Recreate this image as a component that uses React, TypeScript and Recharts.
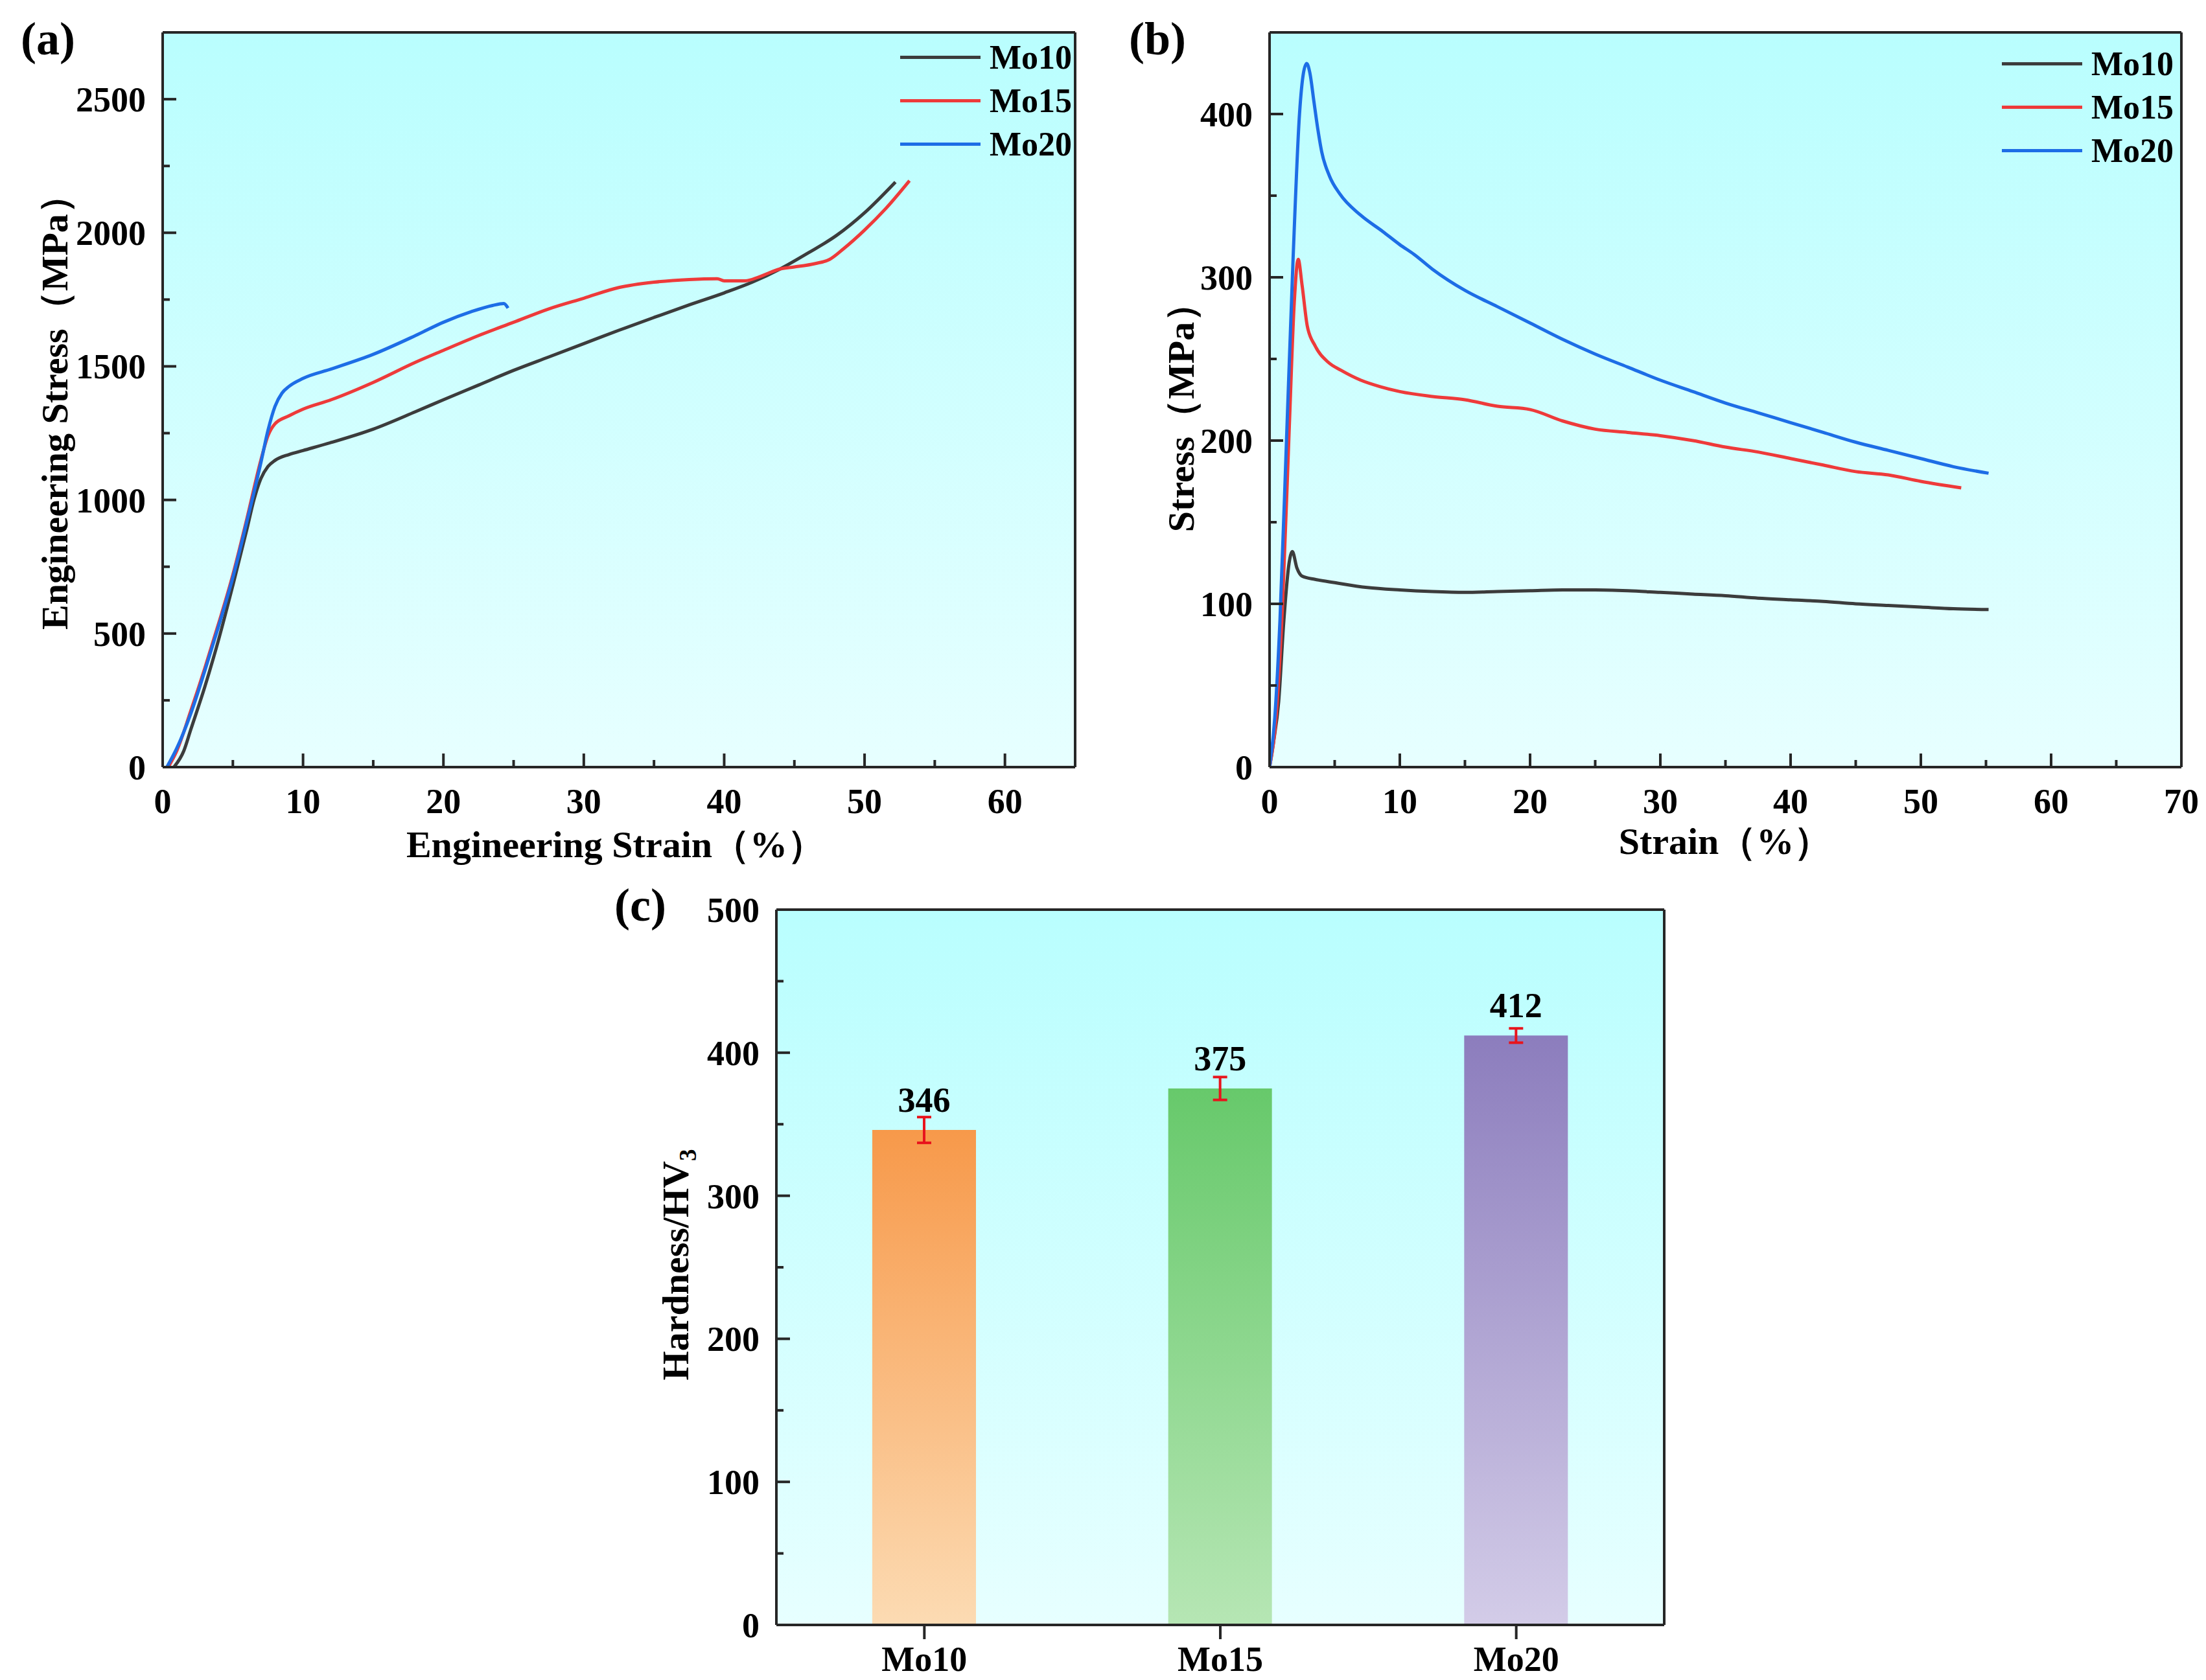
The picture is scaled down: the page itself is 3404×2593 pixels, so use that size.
import React from 'react'
import {
  LineChart, Line, BarChart, Bar, Cell, XAxis, YAxis, CartesianGrid,
  Legend, LabelList, ErrorBar,
} from 'recharts'

const FONT = "'Times New Roman', 'Liberation Serif', serif"
const AXIS = '#262626'

// series
const seriesNames = ['Mo10', 'Mo15', 'Mo20']
const seriesColors = ['#3c3c3c', '#ee3a3a', '#1d6de6']

// (a) engineering stress-strain curves
const strainA10 = [0.8, 1.5, 2, 3, 4, 5, 6, 6.5, 7, 7.5, 8, 9, 10, 12, 15, 18, 20, 22.5, 25, 27.5, 30, 32.5, 35, 37.5, 40, 42, 44, 46, 48, 50, 52.2]
const stressA10 = [0, 60, 140, 300, 480, 680, 890, 1000, 1080, 1125, 1148, 1170, 1185, 1215, 1265, 1330, 1375, 1430, 1485, 1535, 1585, 1635, 1683, 1730, 1775, 1815, 1865, 1925, 1990, 2075, 2190]
const strainA15 = [0.4, 1, 2, 3, 4, 5, 6, 7, 7.5, 8, 9, 10, 12, 15, 18, 20, 22.5, 25, 27.5, 30, 32.5, 35, 37.5, 39.5, 40, 41.5, 42.5, 44, 45, 46.5, 47.5, 48.5, 50, 51.5, 53.2]
const stressA15 = [0, 60, 210, 370, 540, 720, 930, 1150, 1240, 1285, 1315, 1340, 1375, 1440, 1515, 1560, 1615, 1665, 1715, 1755, 1795, 1815, 1825, 1828, 1820, 1820, 1835, 1865, 1872, 1885, 1900, 1940, 2010, 2090, 2195]
const strainA20 = [0.3, 1, 2, 3, 4, 5, 6, 7, 7.5, 8, 8.5, 9, 10, 12, 15, 18, 20, 22, 23.5, 24.3, 24.6]
const stressA20 = [0, 70, 200, 360, 530, 710, 920, 1140, 1260, 1350, 1400, 1425, 1455, 1490, 1545, 1615, 1665, 1705, 1728, 1735, 1718]

const strainTicksA = [0, 5, 10, 15, 20, 25, 30, 35, 40, 45, 50, 55, 60]
const strainLabelsA = [0, 10, 20, 30, 40, 50, 60]
const stressTicksA = [0, 250, 500, 750, 1000, 1250, 1500, 1750, 2000, 2250, 2500]
const stressLabelsA = [0, 500, 1000, 1500, 2000, 2500]

// (b) compressive stress-strain curves
const strainB10 = [0, 0.3, 0.7, 1.1, 1.5, 1.75, 2.1, 2.5, 3.5, 5, 7.5, 10, 12.5, 15, 17.5, 20, 22.5, 25, 27.5, 30, 32.5, 35, 37.5, 40, 42.5, 45, 47.5, 50, 52.5, 55.2]
const stressB10 = [0, 15, 40, 90, 125, 132, 122, 117, 115, 113, 110, 108.5, 107.5, 107, 107.5, 108, 108.5, 108.5, 108, 107, 106, 105, 103.5, 102.5, 101.5, 100, 99, 98, 97, 96.5]
const strainB15 = [0, 0.5, 1, 1.5, 1.9, 2.2, 2.5, 2.9, 3.5, 4.5, 5.5, 7, 8.5, 10, 12.5, 15, 17.5, 20, 22.5, 25, 27.5, 30, 32.5, 35, 37.5, 40, 42.5, 45, 47.5, 50, 53.1]
const stressB15 = [0, 30, 100, 205, 285, 311, 295, 270, 258, 248, 243, 237, 233, 230, 227, 225, 221, 219, 212, 207, 205, 203, 200, 196, 193, 189, 185, 181, 179, 175, 171]
const strainB20 = [0, 0.4, 0.8, 1.3, 1.8, 2.3, 2.6, 2.85, 3.1, 3.4, 3.7, 4, 4.6, 5.4, 7, 8.7, 10, 11.1, 12.5, 15, 17.5, 20, 22.5, 25, 27.5, 30, 32.5, 35, 37.5, 40, 42.5, 45, 47.5, 50, 52.5, 55.2]
const stressB20 = [0, 30, 90, 200, 310, 400, 425, 431, 425, 408, 391, 377, 362, 351, 338, 328, 320, 314, 305, 292, 282, 272, 262, 253, 245, 237, 230, 223, 217, 211, 205, 199, 194, 189, 184, 180]

const strainTicksB = [0, 5, 10, 15, 20, 25, 30, 35, 40, 45, 50, 55, 60, 65, 70]
const strainLabelsB = [0, 10, 20, 30, 40, 50, 60, 70]
const stressTicksB = [0, 50, 100, 150, 200, 250, 300, 350, 400]
const stressLabelsB = [0, 100, 200, 300, 400]

// (c) hardness
const hardnessValues = [346, 375, 412]
const hardnessErrors = [9, 8, 5]
const barTopColors = ['#f7994a', '#67c96b', '#8c7dbd']
const barBottomColors = ['#fcdbb3', '#b6e6b4', '#d3cce8']
const hardnessTicks = [0, 50, 100, 150, 200, 250, 300, 350, 400, 450, 500]
const hardnessLabels = [0, 100, 200, 300, 400, 500]

const toPoints = (xs: number[], ys: number[]) => xs.map((x, i) => ({ x, y: ys[i] }))
const curvesA = [toPoints(strainA10, stressA10), toPoints(strainA15, stressA15), toPoints(strainA20, stressA20)]
const curvesB = [toPoints(strainB10, stressB10), toPoints(strainB15, stressB15), toPoints(strainB20, stressB20)]
const hardnessData = seriesNames.map((name, i) => ({ name, hv: hardnessValues[i], err: hardnessErrors[i] }))

const textStyle = { fontFamily: FONT, fontWeight: 700, fill: '#000' }
const axisLine = { stroke: AXIS, strokeWidth: 4 }
const TICK_FONT = 54
const TITLE_FONT = 58

// frame around the plot area: grid lines only on the four edges
const frameRows = ({ offset }: any) => [offset.top, offset.top + offset.height]
const frameCols = ({ offset }: any) => [offset.left, offset.left + offset.width]

// tick with inward major/minor marks (or outward for category axis)
const Tick = (props: any) => {
  const { x = 0, y = 0, payload, side, labels } = props
  const v = payload?.value
  const major = labels.includes(v)
  const len = major ? 21 : 11
  if (side === 'left') {
    return (
      <g>
        <line x1={x} y1={y} x2={x + len} y2={y} stroke={AXIS} strokeWidth={4} />
        {major && (
          <text x={x - 26} y={y} dy="0.35em" textAnchor="end" fontSize={TICK_FONT} {...textStyle}>{v}</text>
        )}
      </g>
    )
  }
  const down = side === 'bottomOut'
  return (
    <g>
      <line x1={x} y1={y} x2={x} y2={down ? y + 22 : y - len} stroke={AXIS} strokeWidth={4} />
      {major && (
        <text x={x} y={y + 71} textAnchor="middle" fontSize={TICK_FONT} {...textStyle}>{v}</text>
      )}
    </g>
  )
}

const renderLegend = (props: any) => {
  const { payload = [] } = props
  return (
    <div style={{ display: 'flex', flexDirection: 'column' }}>
      {payload.map((entry: any) => (
        <div key={entry.value} style={{ display: 'flex', alignItems: 'center', height: 67 }}>
          <div style={{ width: 124, height: 5, background: entry.color, marginRight: 14 }} />
          <span style={{ fontFamily: FONT, fontWeight: 700, fontSize: 52, lineHeight: '67px', color: '#000' }}>
            {entry.value}
          </span>
        </div>
      ))}
    </div>
  )
}

const PlotBg = ({ id }: { id: string }) => (
  <defs>
    <linearGradient id={id} x1="0" y1="0" x2="0" y2="1">
      <stop offset="0" stopColor="#b9fefe" />
      <stop offset="1" stopColor="#e7ffff" />
    </linearGradient>
  </defs>
)

type CurveProps = {
  curves: { x: number; y: number }[][]
  width: number
  height: number
  margin: { top: number; right: number; left: number; bottom: number }
  xMax: number
  yMax: number
  xTicks: number[]
  xLabels: number[]
  yTicks: number[]
  yLabels: number[]
  bgId: string
  legendPos: { left: number; top: number }
  children?: React.ReactNode
}

const CurveChart = (p: CurveProps) => (
  <LineChart width={p.width} height={p.height} margin={p.margin}>
    <PlotBg id={p.bgId} />
    <CartesianGrid
      fill={`url(#${p.bgId})`} stroke={AXIS} strokeWidth={4}
      horizontalCoordinatesGenerator={frameRows} verticalCoordinatesGenerator={frameCols}
    />
    <XAxis
      type="number" dataKey="x" domain={[0, p.xMax]} ticks={p.xTicks} interval={0}
      allowDataOverflow height={150} tickSize={0} tickMargin={0} tickLine={false} axisLine={axisLine}
      tick={(t: any) => <Tick {...t} side="bottom" labels={p.xLabels} />}
    />
    <YAxis
      type="number" domain={[0, p.yMax]} ticks={p.yTicks} interval={0}
      allowDataOverflow width={200} tickSize={0} tickMargin={0} tickLine={false} axisLine={axisLine}
      tick={(t: any) => <Tick {...t} side="left" labels={p.yLabels} />}
    />
    <Legend
      layout="horizontal" verticalAlign="middle" align="center"
      content={renderLegend}
      wrapperStyle={{ left: p.legendPos.left, top: p.legendPos.top, width: 'auto', right: 'auto', bottom: 'auto' }}
    />
    {p.curves.map((data, i) => (
      <Line
        key={seriesNames[i]} name={seriesNames[i]} data={data} dataKey="y" type="monotone"
        stroke={seriesColors[i]} strokeWidth={5} dot={false} activeDot={false}
        isAnimationActive={false}
      />
    ))}
    {p.children}
  </LineChart>
)

export default function App() {
  return (
    <div style={{ position: 'absolute', left: 0, top: 0, width: 3404, height: 2593, background: '#fff' }}>
      {/* (a) */}
      <div style={{ position: 'absolute', left: 0, top: 0 }}>
        <CurveChart
          curves={curvesA} width={1700} height={1360}
          margin={{ top: 50, right: 41, left: 51, bottom: 26 }}
          xMax={65} yMax={2750} xTicks={strainTicksA} xLabels={strainLabelsA}
          yTicks={stressTicksA} yLabels={stressLabelsA} bgId="bgA"
          legendPos={{ left: 1389, top: 55 }}
        >
          <text x={32} y={84} fontSize={72} {...textStyle}>(a)</text>
          <text x={950} y={1303} dy="0.35em" textAnchor="middle" fontSize={TITLE_FONT} {...textStyle}>
            Engineering Strain（%）
          </text>
          <text x={84} y={622} dy="0.35em" textAnchor="middle" fontSize={TITLE_FONT}
            transform="rotate(-90 84 622)" {...textStyle}>
            Engineering Stress（MPa）
          </text>
        </CurveChart>
      </div>

      {/* (b) */}
      <div style={{ position: 'absolute', left: 1700, top: 0 }}>
        <CurveChart
          curves={curvesB} width={1704} height={1360}
          margin={{ top: 50, right: 38, left: 59, bottom: 26 }}
          xMax={70} yMax={450} xTicks={strainTicksB} xLabels={strainLabelsB}
          yTicks={stressTicksB} yLabels={stressLabelsB} bgId="bgB"
          legendPos={{ left: 1389, top: 65 }}
        >
          <text x={42} y={84} fontSize={72} {...textStyle}>(b)</text>
          <text x={962} y={1298} dy="0.35em" textAnchor="middle" fontSize={TITLE_FONT} {...textStyle}>
            Strain（%）
          </text>
          <text x={122} y={630} dy="0.35em" textAnchor="middle" fontSize={TITLE_FONT}
            transform="rotate(-90 122 630)" {...textStyle}>
            Stress（MPa）
          </text>
        </CurveChart>
      </div>

      {/* (c) */}
      <div style={{ position: 'absolute', left: 900, top: 1350 }}>
        <BarChart width={1800} height={1243} data={hardnessData}
          margin={{ top: 54, right: 132, left: 98, bottom: 5 }}>
          <PlotBg id="bgC" />
          <defs>
            {seriesNames.map((name, i) => (
              <linearGradient key={name} id={`bar${name}`} x1="0" y1="0" x2="0" y2="1">
                <stop offset="0" stopColor={barTopColors[i]} />
                <stop offset="1" stopColor={barBottomColors[i]} />
              </linearGradient>
            ))}
          </defs>
          <CartesianGrid
            fill="url(#bgC)" stroke={AXIS} strokeWidth={4}
            horizontalCoordinatesGenerator={frameRows} verticalCoordinatesGenerator={frameCols}
          />
          <XAxis
            dataKey="name" interval={0} height={80} tickSize={0} tickMargin={0} tickLine={false}
            axisLine={axisLine}
            tick={(t: any) => <Tick {...t} side="bottomOut" labels={seriesNames} />}
          />
          <YAxis
            type="number" domain={[0, 500]} ticks={hardnessTicks} interval={0} allowDataOverflow
            width={200} tickSize={0} tickMargin={0} tickLine={false} axisLine={axisLine}
            tick={(t: any) => <Tick {...t} side="left" labels={hardnessLabels} />}
          />
          <Bar dataKey="hv" barSize={160} isAnimationActive={false}>
            {hardnessData.map((d) => (
              <Cell key={d.name} fill={`url(#bar${d.name})`} />
            ))}
            <ErrorBar dataKey="err" width={11} strokeWidth={4} stroke="#e8141c" />
            <LabelList dataKey="hv" position="top" offset={28} fontSize={54}
              fontFamily={FONT} fontWeight={700} fill="#000" />
          </Bar>
          <text x={48} y={71} fontSize={72} {...textStyle}>(c)</text>
          <text x={142} y={602} dy="0.35em" textAnchor="middle" fontSize={TITLE_FONT}
            transform="rotate(-90 142 602)" {...textStyle}>
            Hardness/HV<tspan fontSize={37} dy="12">3</tspan>
          </text>
        </BarChart>
      </div>
    </div>
  )
}
